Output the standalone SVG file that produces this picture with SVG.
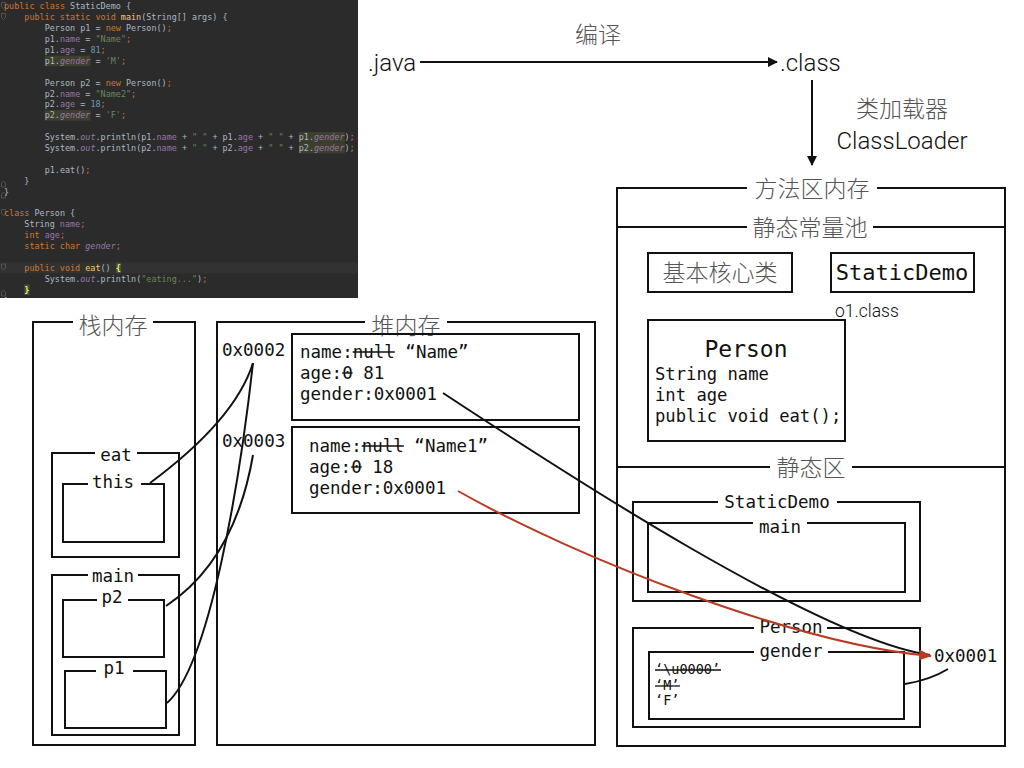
<svg xmlns="http://www.w3.org/2000/svg" width="1024" height="768" viewBox="0 0 1024 768">
<defs>
<style>
.box{fill:none;stroke:#111;stroke-width:2}
.lbg{fill:#fff}
.cjk{font-family:"Noto Sans CJK SC","Noto Sans",sans-serif;font-weight:300;fill:#555;font-size:23px}
.sans{font-family:Roboto,"Liberation Sans",Arial,sans-serif;font-weight:300;fill:#111}
.mono{font-family:"DejaVu Sans Mono","Liberation Mono",monospace;fill:#111}
.mid{text-anchor:middle}
.con{fill:none;stroke:#111;stroke-width:2}
.red{fill:none;stroke:#b83a22;stroke-width:2}
.strike{stroke:#111;stroke-width:1.3}
.code{font-family:"DejaVu Sans Mono","Liberation Mono",monospace;font-size:8.45px;fill:#a9b7c6;white-space:pre}
.k{fill:#cc7832}
.f{fill:#9876aa}
.fi{fill:#9876aa;font-style:italic}
.s{fill:#6a8759}
.n{fill:#6897bb}
.m{fill:#ffc66d}
.mb{fill:#ffef28;font-weight:bold}
.fold{fill:none;stroke:#5a5a5a;stroke-width:0.8}
</style>
<marker id="ah" viewBox="0 0 10 10" refX="9" refY="5" markerWidth="10" markerHeight="10" markerUnits="userSpaceOnUse" orient="auto">
<path d="M0,0 L10,5 L0,10 z" fill="#111"/>
</marker>
<marker id="ahr" viewBox="0 0 12 10" refX="11" refY="5" markerWidth="13" markerHeight="11" markerUnits="userSpaceOnUse" orient="auto">
<path d="M0,0 L12,5 L0,10 z" fill="#b83a22"/>
</marker>
<clipPath id="codeclip"><rect x="0" y="0" width="358" height="298"/></clipPath>
</defs>
<rect width="1024" height="768" fill="#fff"/>

<!-- code screenshot -->
<g id="code" clip-path="url(#codeclip)">
<rect x="0" y="0" width="358" height="298" fill="#2b2b2b"/>
<rect x="0" y="262.4" width="358" height="11" fill="#323232"/>
<rect x="44.7" y="55.6" width="45.8" height="10.6" fill="#3d402c"/>
<rect x="44.7" y="110.1" width="45.8" height="10.6" fill="#3d402c"/>
<rect x="299" y="131.9" width="45.8" height="10.6" fill="#3d402c"/>
<rect x="299" y="142.8" width="45.8" height="10.6" fill="#3d402c"/>
<rect x="115.9" y="262.6" width="5.2" height="10.6" fill="#3b514d"/>
<rect x="24.3" y="284.4" width="5.2" height="10.6" fill="#3b514d"/>
<g class="fold">
<path d="M1.5,2.5 h4 v4 l-2,2 l-2,-2 z"/>
<path d="M1.5,13.5 h4 v4 l-2,2 l-2,-2 z"/>
<path d="M1.5,183 l2,-2 l2,2 v4 h-4 z"/>
<path d="M1.5,194 l2,-2 l2,2 v4 h-4 z"/>
<path d="M1.5,209.5 h4 v4 l-2,2 l-2,-2 z"/>
<path d="M1.5,264 h4 v4 l-2,2 l-2,-2 z"/>
<path d="M1.5,292 l2,-2 l2,2 v4 h-4 z"/>
</g>
<text class="code" x="4" y="9.3"><tspan class="k">public class</tspan> StaticDemo {</text>
<text class="code" x="24.3" y="20.2"><tspan class="k">public static void</tspan> <tspan class="m">main</tspan>(String[] args) {</text>
<text class="code" x="44.7" y="31.1">Person p1 = <tspan class="k">new</tspan> Person()<tspan class="k">;</tspan></text>
<text class="code" x="44.7" y="42">p1.<tspan class="f">name</tspan> = <tspan class="s">"Name"</tspan><tspan class="k">;</tspan></text>
<text class="code" x="44.7" y="52.9">p1.<tspan class="f">age</tspan> = <tspan class="n">81</tspan><tspan class="k">;</tspan></text>
<text class="code" x="44.7" y="63.8">p1.<tspan class="fi">gender</tspan> = <tspan class="s">'M'</tspan><tspan class="k">;</tspan></text>
<text class="code" x="44.7" y="85.6">Person p2 = <tspan class="k">new</tspan> Person()<tspan class="k">;</tspan></text>
<text class="code" x="44.7" y="96.5">p2.<tspan class="f">name</tspan> = <tspan class="s">"Name2"</tspan><tspan class="k">;</tspan></text>
<text class="code" x="44.7" y="107.4">p2.<tspan class="f">age</tspan> = <tspan class="n">18</tspan><tspan class="k">;</tspan></text>
<text class="code" x="44.7" y="118.3">p2.<tspan class="fi">gender</tspan> = <tspan class="s">'F'</tspan><tspan class="k">;</tspan></text>
<text class="code" x="44.7" y="140.1">System.<tspan class="fi">out</tspan>.println(p1.<tspan class="f">name</tspan> + <tspan class="s">" "</tspan> + p1.<tspan class="f">age</tspan> + <tspan class="s">" "</tspan> + p1.<tspan class="fi">gender</tspan>)<tspan class="k">;</tspan></text>
<text class="code" x="44.7" y="151">System.<tspan class="fi">out</tspan>.println(p2.<tspan class="f">name</tspan> + <tspan class="s">" "</tspan> + p2.<tspan class="f">age</tspan> + <tspan class="s">" "</tspan> + p2.<tspan class="fi">gender</tspan>)<tspan class="k">;</tspan></text>
<text class="code" x="44.7" y="172.8">p1.eat()<tspan class="k">;</tspan></text>
<text class="code" x="24.3" y="183.7">}</text>
<text class="code" x="4" y="194.6">}</text>
<text class="code" x="4" y="216.4"><tspan class="k">class</tspan> Person {</text>
<text class="code" x="24.3" y="227.3">String <tspan class="f">name</tspan><tspan class="k">;</tspan></text>
<text class="code" x="24.3" y="238.2"><tspan class="k">int</tspan> <tspan class="f">age</tspan><tspan class="k">;</tspan></text>
<text class="code" x="24.3" y="249.1"><tspan class="k">static char</tspan> <tspan class="fi">gender</tspan><tspan class="k">;</tspan></text>
<text class="code" x="24.3" y="270.9"><tspan class="k">public void</tspan> <tspan class="m">eat</tspan>() <tspan class="mb">{</tspan></text>
<text class="code" x="44.7" y="281.8">System.<tspan class="fi">out</tspan>.println(<tspan class="s">"eating..."</tspan>)<tspan class="k">;</tspan></text>
<text class="code" x="24.3" y="292.7"><tspan class="mb">}</tspan></text>
<text class="code" x="4" y="303.6">}</text>
</g>

<!-- compile flow -->
<g id="java"><text class="sans" x="368" y="71" font-size="24">.java</text></g>
<g id="class"><text class="sans" x="780" y="71" font-size="24">.class</text></g>
<g id="compile-label"><text class="cjk mid" x="598" y="43" font-size="22">编译</text></g>
<g id="loader-label">
<text class="cjk mid" x="902" y="117">类加载器</text>
<text class="sans mid" x="902" y="149" font-size="24">ClassLoader</text>
</g>

<!-- stack -->
<g id="stack">
<rect class="box" x="33" y="322" width="162" height="423"/>
<rect class="lbg" x="73" y="312" width="80" height="20"/>
<text class="cjk mid" x="113" y="334">栈内存</text>
</g>
<g id="frame-eat">
<rect class="box" x="52" y="453" width="127" height="104"/>
<rect class="lbg" x="95" y="445" width="42" height="14"/>
<text class="mono mid" x="116" y="461" font-size="17.5">eat</text>
</g>
<g id="var-this">
<rect class="box" x="63" y="484" width="101" height="58"/>
<rect class="lbg" x="88" y="476" width="53" height="14"/>
<text class="mono mid" x="113" y="488" font-size="17.5">this</text>
</g>
<g id="frame-main">
<rect class="box" x="52" y="575" width="127" height="160"/>
<rect class="lbg" x="88" y="567" width="50" height="14"/>
<text class="mono mid" x="113" y="582" font-size="17.5">main</text>
</g>
<g id="var-p2">
<rect class="box" x="63" y="600" width="101" height="57"/>
<rect class="lbg" x="97" y="592" width="31" height="14"/>
<text class="mono mid" x="112" y="603" font-size="17.5">p2</text>
</g>
<g id="var-p1">
<rect class="box" x="65" y="671" width="101" height="57"/>
<rect class="lbg" x="96" y="663" width="37" height="14"/>
<text class="mono mid" x="114" y="674" font-size="17.5">p1</text>
</g>

<!-- heap -->
<g id="heap">
<rect class="box" x="217" y="322" width="378" height="423"/>
<rect class="lbg" x="365" y="312" width="82" height="20"/>
<text class="cjk mid" x="406" y="334">堆内存</text>
<text class="mono" x="222" y="356" font-size="17.5">0x0002</text>
<text class="mono" x="222" y="447" font-size="17.5">0x0003</text>
</g>
<g id="obj1">
<rect class="box" x="292" y="334" width="287" height="86"/>
<text class="mono" x="300" y="358" font-size="17.5">name:null “Name”</text>
<text class="mono" x="300" y="379" font-size="17.5">age:0 81</text>
<text class="mono" x="300" y="400" font-size="17.5">gender:0x0001</text>
<line class="strike" x1="352.7" y1="352" x2="394.8" y2="352"/>
<line class="strike" x1="342.1" y1="373" x2="352.7" y2="373"/>
</g>
<g id="obj2">
<rect class="box" x="292" y="427" width="287" height="86"/>
<text class="mono" x="309" y="452" font-size="17.5">name:null “Name1”</text>
<text class="mono" x="309" y="473" font-size="17.5">age:0 18</text>
<text class="mono" x="309" y="494" font-size="17.5">gender:0x0001</text>
<line class="strike" x1="361.7" y1="446" x2="403.8" y2="446"/>
<line class="strike" x1="351.1" y1="467" x2="361.7" y2="467"/>
</g>

<!-- method area -->
<g id="method-area">
<rect class="box" x="617" y="188" width="388" height="558"/>
<line class="box" x1="617" y1="227" x2="1005" y2="227"/>
<line class="box" x1="617" y1="467" x2="1005" y2="467"/>
<rect class="lbg" x="747" y="177" width="130" height="22"/>
<text class="cjk mid" x="812" y="197">方法区内存</text>
<rect class="lbg" x="747" y="216" width="126" height="22"/>
<text class="cjk mid" x="810" y="236">静态常量池</text>
<rect class="lbg" x="770" y="456" width="82" height="22"/>
<text class="cjk mid" x="811" y="476">静态区</text>
</g>
<g id="core-classes">
<rect class="box" x="648" y="253" width="144" height="39"/>
<text class="cjk mid" x="720" y="281">基本核心类</text>
</g>
<g id="staticdemo-class">
<rect class="box" x="831" y="253" width="143" height="39"/>
<text class="mono mid" x="902" y="280" font-size="22">StaticDemo</text>
<text class="sans" x="835" y="317" font-size="17.5">o1.class</text>
</g>
<g id="person-class">
<rect class="box" x="648" y="320" width="197" height="121"/>
<text class="mono mid" x="746" y="357" font-size="23">Person</text>
<text class="mono" x="655" y="380" font-size="17.2">String name</text>
<text class="mono" x="655" y="401" font-size="17.2">int age</text>
<text class="mono" x="655" y="422" font-size="17.2">public void eat();</text>
</g>
<g id="static-staticdemo">
<rect class="box" x="633" y="502" width="287" height="99"/>
<rect class="lbg" x="718" y="494" width="119" height="14"/>
<text class="mono mid" x="777" y="508" font-size="17.5">StaticDemo</text>
</g>
<g id="static-main">
<rect class="box" x="648" y="523" width="257" height="69"/>
<rect class="lbg" x="753" y="515" width="54" height="14"/>
<text class="mono mid" x="780" y="533" font-size="17.5">main</text>
</g>
<g id="static-person">
<rect class="box" x="633" y="628" width="287" height="99"/>
<rect class="lbg" x="754" y="620" width="73" height="14"/>
<text class="mono mid" x="791" y="633" font-size="17.5">Person</text>
</g>
<g id="static-gender">
<rect class="box" x="649" y="652" width="255" height="67"/>
<rect class="lbg" x="754" y="644" width="74" height="14"/>
<text class="mono mid" x="791" y="657" font-size="17.5">gender</text>
<text class="mono" x="655" y="674" font-size="13.5">‘\u0000’</text>
<text class="mono" x="655" y="690" font-size="13.5">‘M’</text>
<text class="mono" x="655" y="705" font-size="13.5">‘F’</text>
<line class="strike" x1="655" y1="670" x2="721" y2="670" stroke-width="1.1"/>
<line class="strike" x1="655" y1="686" x2="680" y2="686" stroke-width="1.1"/>
</g>
<g id="addr-0x0001">
<text class="mono" x="934" y="662" font-size="17.5">0x0001</text>
</g>

<!-- connectors -->
<g id="connectors">
<line class="con" x1="420" y1="62" x2="777" y2="62" marker-end="url(#ah)"/>
<line class="con" x1="812" y1="80" x2="812" y2="165" marker-end="url(#ah)"/>
<path class="con" d="M150,483 Q235,420 253,363"/>
<path class="con" d="M166,606 Q235,560 253,455"/>
<path class="con" d="M167,703 C210,665 240,480 253,363"/>
<path class="con" d="M443,393 C560,470 820,640 930,655"/>
<path class="red" d="M458,491 C580,560 800,645 931,656" marker-end="url(#ahr)"/>
<path class="con" d="M905,684 Q930,680 948,669"/>
</g>
</svg>
